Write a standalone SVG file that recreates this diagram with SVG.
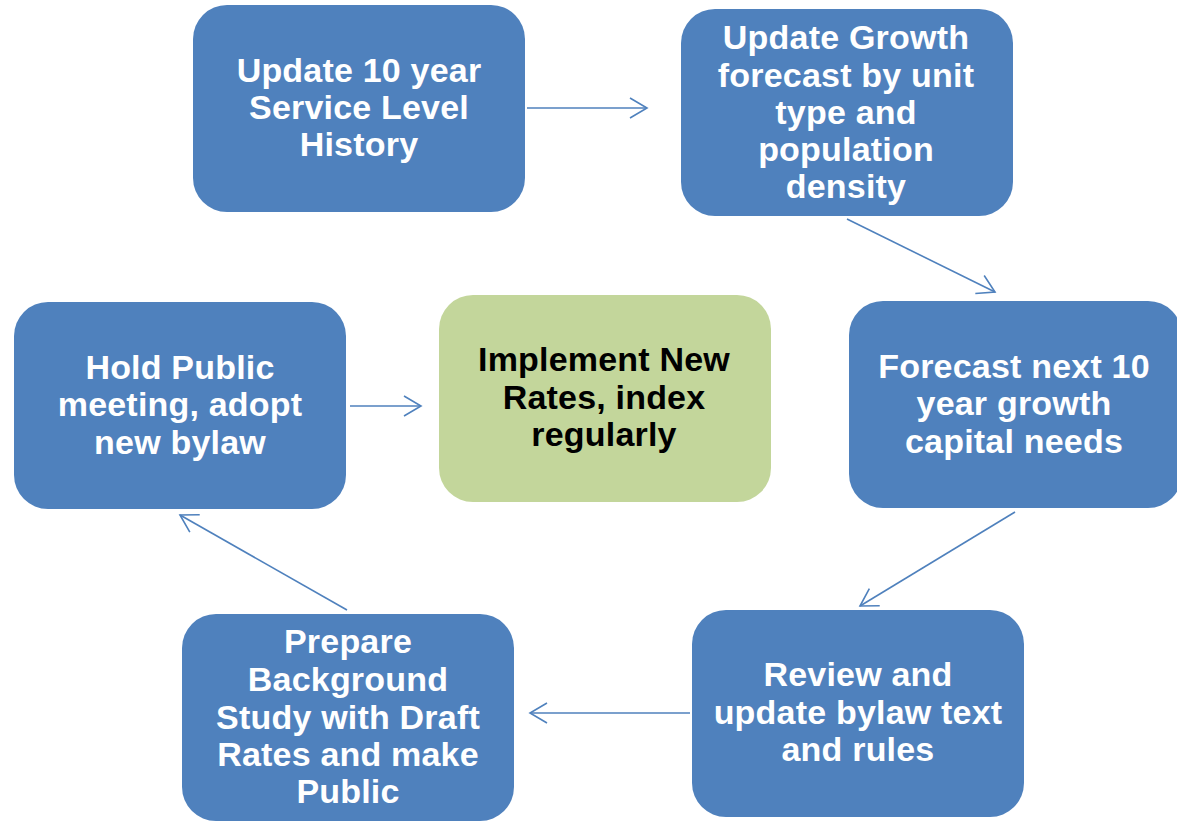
<svg xmlns="http://www.w3.org/2000/svg" width="1177" height="821" viewBox="0 0 1177 821">
<defs>
<style>
.n{fill:#4F81BD}
.g{fill:#C3D69B}
.t{font-family:"Liberation Sans",Arial,sans-serif;font-weight:bold;font-size:34px;letter-spacing:0.2px;text-anchor:middle;fill:#FFFFFF}
.k{fill:#000000}
.c{stroke:#4F81BD;stroke-width:1.6;fill:none}
</style>
<marker id="ah" markerUnits="userSpaceOnUse" markerWidth="22" markerHeight="24" refX="18" refY="11" orient="auto">
<path d="M1,1 L18,11 L1,21" fill="none" stroke="#4F81BD" stroke-width="1.6"/>
</marker>
</defs>
<rect width="1177" height="821" fill="#FFFFFF"/>
<g id="connectors">
<line class="c" x1="527" y1="108" x2="647" y2="108" marker-end="url(#ah)"/>
<line class="c" x1="847" y1="219" x2="995" y2="292" marker-end="url(#ah)"/>
<line class="c" x1="1015" y1="512" x2="860" y2="606" marker-end="url(#ah)"/>
<line class="c" x1="690" y1="713" x2="530" y2="713" marker-end="url(#ah)"/>
<line class="c" x1="347" y1="610" x2="180" y2="515" marker-end="url(#ah)"/>
<line class="c" x1="350" y1="406" x2="421" y2="406" marker-end="url(#ah)"/>
</g>
<g id="n1">
<rect class="n" x="193" y="5" width="332" height="207" rx="34"/>
<text class="t"><tspan x="359" y="82">Update 10 year</tspan><tspan x="359" y="119">Service Level</tspan><tspan x="359" y="156">History</tspan></text>
</g>
<g id="n2">
<rect class="n" x="681" y="9" width="332" height="207" rx="34"/>
<text class="t"><tspan x="846" y="49">Update Growth</tspan><tspan x="846" y="87">forecast by unit</tspan><tspan x="846" y="124">type and</tspan><tspan x="846" y="161">population</tspan><tspan x="846" y="198">density</tspan></text>
</g>
<g id="n3">
<rect class="n" x="849" y="301" width="333" height="207" rx="34"/>
<text class="t"><tspan x="1014" y="378">Forecast next 10</tspan><tspan x="1014" y="415">year growth</tspan><tspan x="1014" y="453">capital needs</tspan></text>
</g>
<g id="center">
<rect class="g" x="439" y="295" width="332" height="207" rx="34"/>
<text class="t k"><tspan x="604" y="371">Implement New</tspan><tspan x="604" y="409">Rates, index</tspan><tspan x="604" y="446">regularly</tspan></text>
</g>
<g id="n4">
<rect class="n" x="692" y="610" width="332" height="207" rx="34"/>
<text class="t"><tspan x="858" y="686">Review and</tspan><tspan x="858" y="724">update bylaw text</tspan><tspan x="858" y="761">and rules</tspan></text>
</g>
<g id="n5">
<rect class="n" x="182" y="614" width="332" height="207" rx="34"/>
<text class="t"><tspan x="348" y="653">Prepare</tspan><tspan x="348" y="691">Background</tspan><tspan x="348" y="729">Study with Draft</tspan><tspan x="348" y="766">Rates and make</tspan><tspan x="348" y="803">Public</tspan></text>
</g>
<g id="n6">
<rect class="n" x="14" y="302" width="332" height="207" rx="34"/>
<text class="t"><tspan x="180" y="379">Hold Public</tspan><tspan x="180" y="416">meeting, adopt</tspan><tspan x="180" y="454">new bylaw</tspan></text>
</g>
</svg>
